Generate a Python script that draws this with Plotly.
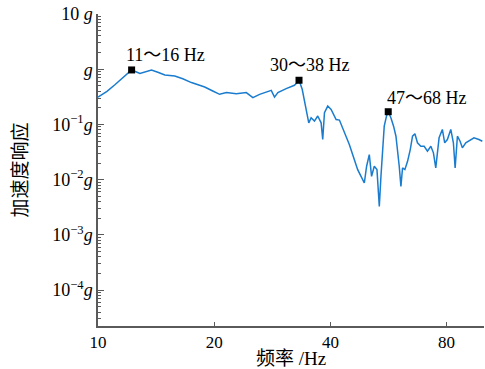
import math
import plotly.graph_objects as go

# frequency (Hz) and acceleration response (g)
freq = [10.0, 10.55, 11.06, 11.6, 12.22, 12.84, 13.23, 13.76, 14.29, 14.9, 15.81, 16.58,
        17.46, 18.9, 19.83, 20.66, 21.51, 22.82, 24.22, 25.19, 26.22, 28.11, 28.66, 29.24,
        30.73, 31.66, 32.28, 32.67, 33.17, 33.81, 34.27, 34.74, 35.16, 35.66, 36.37, 37.09,
        37.85, 38.21, 38.61, 39.37, 40.17, 41.39, 42.21, 43.47, 44.78, 46.13, 47.07, 48.03,
        48.97, 49.65, 50.45, 51.14, 51.97, 52.81, 53.55, 54.08, 54.6, 55.15, 55.91, 56.48,
        57.38, 58.31, 59.14, 59.7, 60.31, 60.92, 61.51, 62.37, 63.38, 64.41, 65.29, 66.22,
        67.24, 68.6, 69.98, 71.37, 72.83, 73.96, 75.0, 76.5, 78.0, 79.1, 80.37, 82.03,
        83.31, 84.18, 85.33, 86.7, 87.9, 89.7, 92.4, 94.2, 97.0, 99.0]
accel = [0.313, 0.398, 0.523, 0.716, 0.97, 0.835, 0.882, 0.97, 0.882, 0.788, 0.755, 0.672,
         0.573, 0.477, 0.403, 0.351, 0.377, 0.361, 0.377, 0.306, 0.351, 0.415, 0.313, 0.377,
         0.446, 0.484, 0.512, 0.556, 0.631, 0.433, 0.285, 0.163, 0.107, 0.132, 0.115, 0.142,
         0.107, 0.0533, 0.163, 0.215, 0.187, 0.123, 0.12, 0.0707, 0.0433, 0.0231, 0.0152, 0.0115,
         0.0087, 0.0175, 0.0285, 0.0115, 0.0175, 0.0152, 0.00327, 0.0115, 0.0403, 0.0931, 0.142, 0.170,
         0.132, 0.0931, 0.0612, 0.0351, 0.0175, 0.00755, 0.0163, 0.0152, 0.0215, 0.0351, 0.0612, 0.0678,
         0.0465, 0.0403, 0.0403, 0.0327, 0.0403, 0.0306, 0.0163, 0.0573, 0.0811, 0.0465, 0.0533, 0.0811,
         0.0465, 0.0163, 0.0612, 0.0497, 0.0377, 0.0465, 0.0533, 0.0573, 0.0533, 0.0497]

peak_freq = [12.22, 33.17, 56.48]
peak_accel = [0.97, 0.631, 0.170]
peak_labels = ["11～16 Hz", "30～38 Hz", "47～68 Hz"]

x_tickvals = [10, 20, 40, 80]
x_ticktext = ["10", "20", "40", "80"]
y_tickvals = [10, 1, 0.1, 0.01, 0.001, 0.0001]
y_ticktext = ["10 <i>g</i>", "<i>g</i>", "10<sup>−1</sup><i>g</i>", "10<sup>−2</sup><i>g</i>",
              "10<sup>−3</sup><i>g</i>", "10<sup>−4</sup><i>g</i>"]

FONT = "Liberation Serif"
CJK = "Noto Sans CJK SC"
LINE = "#1a7cce"
AXC = "#5a5a5a"

fig = go.Figure()
fig.add_trace(go.Scatter(x=freq, y=accel, mode="lines",
                         line=dict(color=LINE, width=1.5), showlegend=False))
fig.add_trace(go.Scatter(x=peak_freq, y=peak_accel, mode="markers",
                         marker=dict(symbol="square", size=7, color="black"), showlegend=False))

shifts = [(34, 15), (11, 15), (39, 14)]
for f, a, t, (dx, dy) in zip(peak_freq, peak_accel, peak_labels, shifts):
    fig.add_annotation(x=math.log10(f), y=math.log10(a), text=t,
                       showarrow=False, xshift=dx, yshift=dy,
                       font=dict(family=FONT + ", " + CJK, size=18, color="black"))

fig.update_xaxes(type="log", range=[1, 2], tickvals=x_tickvals, ticktext=x_ticktext,
                 ticks="inside", ticklen=4, tickcolor=AXC, showline=True, linecolor=AXC,
                 linewidth=1.5, showgrid=False, zeroline=False,
                 tickfont=dict(family=FONT, size=17, color="black"),
                 title=dict(text="频率 /Hz", font=dict(family=FONT + ", " + CJK, size=19, color="black"),
                            standoff=3))
fig.update_yaxes(type="log", range=[-4.65, 1.0], tickvals=y_tickvals, ticktext=y_ticktext,
                 ticks="inside", ticklen=6, tickcolor=AXC, showline=True, linecolor=AXC,
                 linewidth=1.5, showgrid=False, zeroline=False,
                 minor=dict(ticks="inside", ticklen=3, tickcolor=AXC, dtick="D1", showgrid=False),
                 tickfont=dict(family=FONT, size=18, color="black"),
                 title=dict(text="加速度响应", font=dict(family=CJK, size=19, color="black"),
                            standoff=20))

fig.update_layout(width=485, height=369, margin=dict(l=98, r=1, t=14, b=43),
                  plot_bgcolor="white", paper_bgcolor="white")
fig.write_html("out.html", config={"displayModeBar": False},
               post_script="document.body.style.margin='0';document.body.style.overflow='hidden';")
